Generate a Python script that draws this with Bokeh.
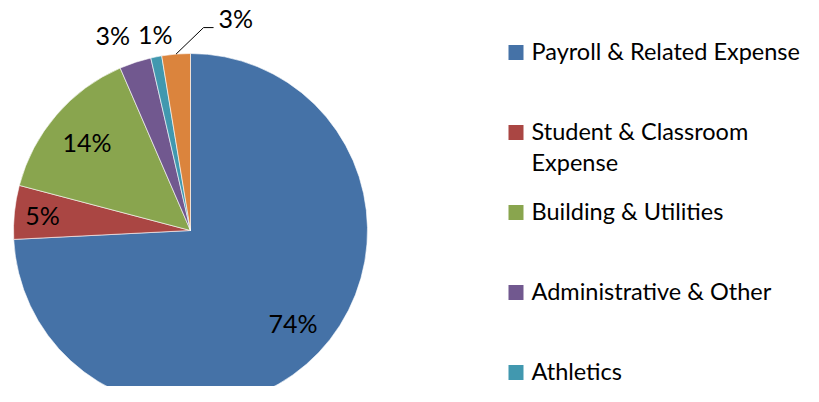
import math
from bokeh.plotting import figure
from bokeh.models import Range1d, ColumnDataSource
from bokeh.core.properties import value
from bokeh.embed import file_html
from bokeh.resources import INLINE

# ---- data ----
categories = ["Payroll & Related Expense", "Student & Classroom\nExpense",
              "Building & Utilities", "Administrative & Other", "Athletics"]
shares = [74.2, 4.9, 14.4, 2.9, 1.0, 2.6]
colors = ["#4572A7", "#AA4643", "#89A54E", "#71588F", "#4198AF", "#DB843D"]
label_radius = [0.78, 0.84, 0.77, 1.19, 1.13, 1.0]
label_shift_deg = [1.5, 0, 0, 3.5, -1.0, 0]

W, H = 803, 386
FONT = "Lato"
FS = "25px"
LFS = "23.5px"

p = figure(width=W, height=H, output_backend="svg", toolbar_location=None,
           x_range=Range1d(0, W), y_range=Range1d(0, H), min_border=0)
p.axis.visible = False
p.grid.visible = False
p.outline_line_color = None
p.background_fill_color = "white"

cx, cy, r = 190, 156, 177
total = sum(shares)
starts, ends, mids = [], [], []
cum = 0.0
for v in shares:
    a0 = math.pi / 2 - 2 * math.pi * cum / total
    cum += v
    a1 = math.pi / 2 - 2 * math.pi * cum / total
    starts.append(a0); ends.append(a1); mids.append((a0 + a1) / 2)

src = ColumnDataSource(dict(start=starts, end=ends, color=colors))
p.wedge(x=cx, y=cy, radius=r, start_angle="start", end_angle="end",
        direction="clock", fill_color="color", line_color="white",
        line_width=0.6, source=src)

# data labels
lx, ly, lt = [], [], []
for i, v in enumerate(shares[:-1]):
    a = mids[i] + math.radians(label_shift_deg[i])
    lx.append(cx + label_radius[i] * r * math.cos(a))
    ly.append(cy + label_radius[i] * r * math.sin(a))
    lt.append(f"{v:.0f}%")
p.text(x=lx, y=ly, text=lt, text_align="center", text_baseline="middle",
       text_font=value(FONT), text_font_size=FS, text_color="black")

# last slice label with leader line
ex = cx + r * math.cos(mids[-1])
ey = cy + r * math.sin(mids[-1])
bx, by = ex + 27.5, ey + 26.5
fx = bx + 10
p.line(x=[ex, bx, fx], y=[ey, by, by], line_color="black", line_width=1)
p.text(x=[fx + 5], y=[by + 9.5], text=[f"{shares[-1]:.0f}%"], text_align="left",
       text_baseline="middle", text_font=value(FONT), text_font_size=FS,
       text_color="black")

# legend
leg_x = 508
leg_y0 = H - 52
step = 80
sq_y = [leg_y0 - step * i for i in range(len(categories))]
p.rect(x=[leg_x + 7.5] * len(categories), y=sq_y, width=15, height=15,
       fill_color=colors[:len(categories)], line_color=None)
p.text(x=[leg_x + 23] * len(categories), y=[y + 16 for y in sq_y], text=categories,
       text_align="left", text_baseline="top", text_font=value(FONT),
       text_font_size=LFS, text_color="black", text_line_height=1.12)

open("out.html", "w").write(file_html(p, INLINE))
